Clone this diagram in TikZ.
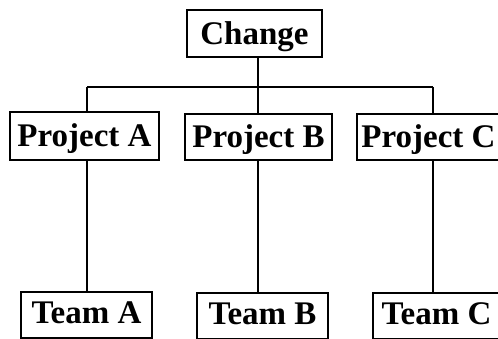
\documentclass[tikz,border=0pt]{standalone}
\usepackage{fontspec}
\setmainfont{Liberation Serif}
\begin{document}
\begin{tikzpicture}[x=1pt,y=1pt,
  box/.style={draw, line width=1.3pt, inner sep=0pt, font=\bfseries\fontsize{33}{38}\selectfont,
    text height=29pt, text depth=7pt},
  conn/.style={line width=1.1pt}]
\useasboundingbox (0,0) rectangle (498,339);
\node[box, minimum width=135pt, minimum height=47pt] (change) at (254.5,{339-33.5}) {Change};
\node[box, minimum width=149pt, minimum height=48pt] (pA) at (84.5,{339-136}) {Project A};
\node[box, minimum width=147pt, minimum height=46pt] (pB) at (258.5,{339-137}) {Project B};
\node[box, minimum width=143pt, minimum height=46pt] (pC) at (428.5,{339-137}) {Project C};
\node[box, minimum width=131pt, minimum height=46pt, text height=27pt, text depth=9pt] (tA) at (86.5,{339-315}) {Team A};
\node[box, minimum width=131pt, minimum height=46pt, text height=27pt, text depth=9pt] (tB) at (262.5,{339-316}) {Team B};
\node[box, minimum width=127pt, minimum height=46pt, text height=27pt, text depth=9pt] (tC) at (436.5,{339-316}) {Team C};
\coordinate (jA) at (87,{339-87});
\coordinate (jB) at (258,{339-87});
\coordinate (jC) at (433,{339-87});
\draw[conn] (change.south -| jB) -- (jB);
\draw[conn] (jA) -- (jC);
\draw[conn] (jA) -- (pA.north -| jA);
\draw[conn] (jB) -- (pB.north -| jB);
\draw[conn] (jC) -- (pC.north -| jC);
\draw[conn] (pA.south -| jA) -- (tA.north -| jA);
\draw[conn] (pB.south -| jB) -- (tB.north -| jB);
\draw[conn] (pC.south -| jC) -- (tC.north -| jC);
\end{tikzpicture}
\end{document}
